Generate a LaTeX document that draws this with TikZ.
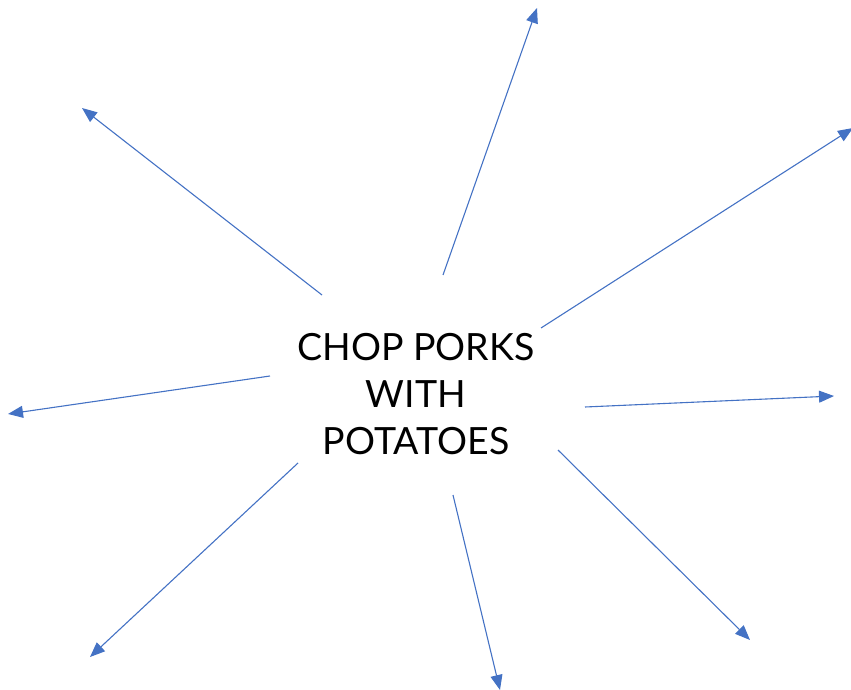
\documentclass[tikz,border=0pt]{standalone}
\usepackage{fontspec}
\setmainfont{Lato}
\usetikzlibrary{arrows.meta}
\definecolor{spoke}{HTML}{4472C4}
\tikzset{
  spokearrow/.style={draw=spoke, line width=1.1pt, -{Triangle[length=15pt,width=12pt]}},
  hub/.style={align=center, font=\fontsize{37.5}{47}\selectfont, inner sep=0pt}
}
\begin{document}
\begin{tikzpicture}[x=1pt,y=-1pt]
  \useasboundingbox (0,0) rectangle (851,690);
  \node[hub] (hub) at (416,394) {CHOP PORKS\\WITH\\POTATOES};
  % spoke start points around the title
  \coordinate (s1) at (322,295);
  \coordinate (s2) at (443,275);
  \coordinate (s3) at (541,328);
  \coordinate (s4) at (270,376);
  \coordinate (s5) at (585,407);
  \coordinate (s6) at (298,463);
  \coordinate (s7) at (453,495);
  \coordinate (s8) at (558,450);
  % spoke tips
  \coordinate (e1) at (82,108);
  \coordinate (e2) at (537,8);
  \coordinate (e3) at (853,128);
  \coordinate (e4) at (8,414);
  \coordinate (e5) at (834,396);
  \coordinate (e6) at (90,657);
  \coordinate (e7) at (500,690);
  \coordinate (e8) at (750,640);
  \foreach \i in {1,...,8} \draw[spokearrow] (s\i) -- (e\i);
\end{tikzpicture}
\end{document}
